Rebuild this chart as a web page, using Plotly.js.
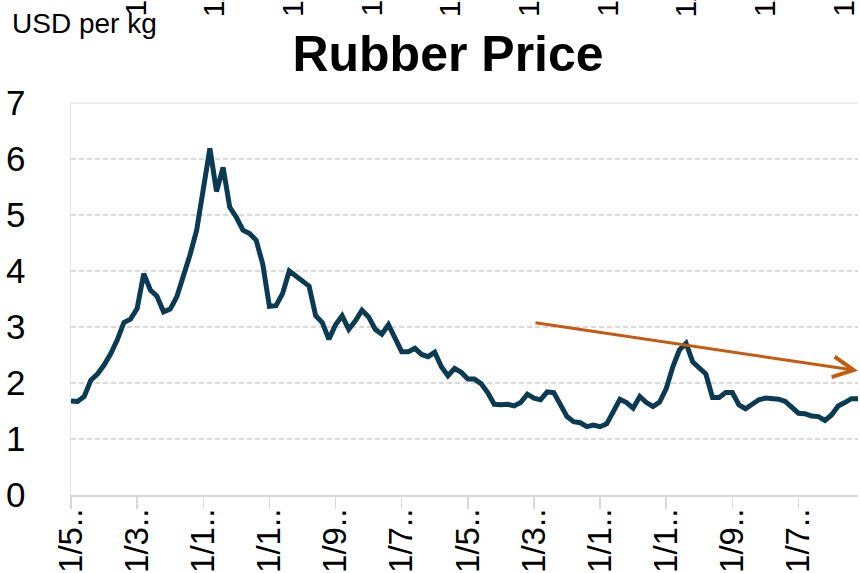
<!DOCTYPE html>
<html>
<head>
<meta charset="utf-8">
<script src="https://cdn.plot.ly/plotly-3.0.1.min.js"></script>
<style>
  html, body { margin: 0; padding: 0; background: #ffffff; }
  #chart { width: 860px; height: 573px; }
</style>
</head>
<body>
<div id="chart"></div>
<script>
// ---- Data (monthly, May 2009 - Apr 2019), USD per kg ----
var startYear = 2009;
var startMonth = 5;
var rubberPrice = [
  1.68, 1.67, 1.76, 2.05, 2.16, 2.32, 2.52, 2.77, 3.08, 3.14,
  3.33, 3.95, 3.66, 3.55, 3.27, 3.32, 3.54, 3.90, 4.29, 4.73,
  5.48, 6.19, 5.42, 5.85, 5.14, 4.96, 4.73, 4.67, 4.55, 4.12,
  3.37, 3.38, 3.60, 4.00, 3.91, 3.83, 3.73, 3.20, 3.08, 2.78,
  3.04, 3.20, 2.96, 3.11, 3.30, 3.18, 2.96, 2.87, 3.04, 2.80,
  2.56, 2.56, 2.62, 2.51, 2.47, 2.55, 2.29, 2.13, 2.26, 2.19,
  2.07, 2.07, 1.99, 1.83, 1.62, 1.61, 1.62, 1.59, 1.65, 1.80,
  1.73, 1.70, 1.84, 1.83, 1.61, 1.40, 1.31, 1.29, 1.22, 1.25,
  1.22, 1.27, 1.49, 1.71, 1.65, 1.55, 1.76, 1.65, 1.58, 1.66,
  1.90, 2.29, 2.59, 2.71, 2.38, 2.26, 2.16, 1.74, 1.74, 1.83,
  1.83, 1.61, 1.54, 1.62, 1.70, 1.73, 1.73, 1.71, 1.67, 1.55,
  1.46, 1.45, 1.41, 1.40, 1.33, 1.43, 1.59, 1.65, 1.72, 1.72
];

// category labels d/m/yyyy, one per month
var months = [];
for (var i = 0; i < rubberPrice.length; i++) {
  var m0 = (startMonth - 1 + i);
  var yy = startYear + Math.floor(m0 / 12);
  var mm = (m0 % 12) + 1;
  months.push('1/' + mm + '/' + yy);
}

// shown (truncated) x tick labels, every 10th month
var tickStep = 10;
var tickLabels = ['1/5..', '1/3..', '1/1..', '1/1..', '1/9..', '1/7..',
                  '1/5..', '1/3..', '1/1..', '1/1..', '1/9..', '1/7..'];
var tickCats = [];
for (var k = 0; k < tickLabels.length; k++) tickCats.push(months[k * tickStep]);

var yTicks = [0, 1, 2, 3, 4, 5, 6, 7];

// orange trend arrow (index on category axis, value)
var trendFrom = [70, 3.08];
var trendTo = [119, 2.22];

// clipped label fragments along the top edge
var topFragments = ['1/5/2009', '1/3/2010', '1/1/2011', '1/11/2011', '1/9/2012',
                    '1/7/2013', '1/5/2014', '1/3/2015', '1/1/2016', '1/11/2016'];

// ---- Layout ----
var W = 860, H = 573;
var mL = 71, mR = 2, mT = 103, mB = 78;
var plotW = W - mL - mR, plotH = H - mT - mB;
var FONT = 'Arial, "Liberation Sans", sans-serif';

var annotations = [];
annotations.push({
  text: 'USD per kg', xref: 'paper', yref: 'paper',
  x: (10 - mL) / plotW, y: 1 + (mT - 23) / plotH,
  xanchor: 'left', yanchor: 'middle', showarrow: false,
  font: { family: FONT, size: 28, color: '#000000' }
});
annotations.push({
  text: '', xref: 'x', yref: 'y', axref: 'x', ayref: 'y',
  x: trendTo[0], y: trendTo[1], ax: trendFrom[0], ay: trendFrom[1],
  showarrow: true, arrowhead: 5, arrowsize: 1.35, arrowwidth: 3,
  arrowcolor: '#C55A11', standoff: 0, startstandoff: 0
});
var fragStart = 135, fragStep = 78.7;
for (var f = 0; f < topFragments.length; f++) {
  annotations.push({
    text: topFragments[f], xref: 'paper', yref: 'paper',
    x: (fragStart + f * fragStep - mL) / plotW,
    y: 1 + (mT - 19) / plotH,
    xanchor: 'center', yanchor: 'bottom', textangle: -90, showarrow: false,
    font: { family: FONT, size: 30, color: '#000000' }
  });
}

var trace = {
  type: 'scatter', mode: 'lines',
  x: months, y: rubberPrice,
  line: { color: '#0B3A53', width: 5 },
  cliponaxis: false, hoverinfo: 'skip'
};

var layout = {
  width: W, height: H,
  margin: { l: mL, r: mR, t: mT, b: mB, pad: 0 },
  paper_bgcolor: '#ffffff', plot_bgcolor: '#ffffff',
  showlegend: false,
  font: { family: FONT, color: '#000000' },
  title: {
    text: 'Rubber Price',
    font: { family: FONT, size: 50, color: '#000000', weight: 'bold' },
    xref: 'container', x: 448 / W, xanchor: 'center',
    yref: 'container', y: 1 - 53 / H, yanchor: 'middle'
  },
  xaxis: {
    type: 'category', range: [0, rubberPrice.length - 1],
    tickmode: 'array', tickvals: tickCats, ticktext: tickLabels,
    tickangle: -90, tickfont: { family: FONT, size: 33, color: '#000000' },
    showline: true, linecolor: '#D9D9D9', linewidth: 1.5,
    ticks: 'outside', ticklen: 12, tickwidth: 1.5, tickcolor: '#D9D9D9',
    ticklabelstandoff: -13,
    showgrid: false, zeroline: false, automargin: false, fixedrange: true
  },
  yaxis: {
    range: [0, 7], tickmode: 'array', tickvals: yTicks,
    tickfont: { family: FONT, size: 35, color: '#000000' },
    showgrid: true, gridcolor: '#D9D9D9', gridwidth: 1.3, griddash: '5px,3px',
    showline: true, linecolor: '#E8E8E8', linewidth: 1.5,
    ticks: '', ticklabelstandoff: 37,
    zeroline: false, automargin: false, fixedrange: true
  },
  shapes: [{
    type: 'line', xref: 'paper', yref: 'paper', x0: 0, x1: 1, y0: 1, y1: 1,
    line: { color: '#EDEDED', width: 2 }, layer: 'above'
  }],
  annotations: annotations
};

Plotly.newPlot('chart', [trace], layout, { displayModeBar: false, staticPlot: true });
</script>
</body>
</html>
